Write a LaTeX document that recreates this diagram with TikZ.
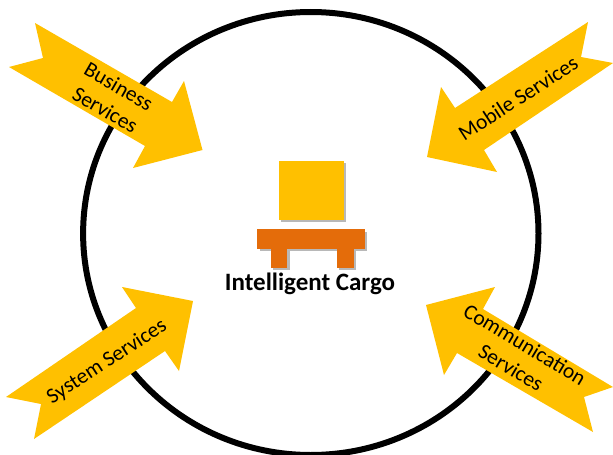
\documentclass[tikz,border=0pt]{standalone}
\usepackage{fontspec}
\setmainfont{Carlito}
\definecolor{amber}{RGB}{255,192,0}
\definecolor{orangeb}{RGB}{228,108,10}
\tikzset{
 px/.style={x=1pt,y=-1pt},
 bigarrow/.style={fill=amber,draw=none},
 shade1/.style={fill=black!28,draw=none},
 lbl/.style={font=\fontsize{21.5}{27}\selectfont,align=center,text=black,inner sep=0pt},
}
\begin{document}
\begin{tikzpicture}[px]
\useasboundingbox (0,0) rectangle (613,455);
\begin{scope}
\clip (0,0) rectangle (613,455);
\draw[line width=6pt,black] (310.8,233.5) ellipse [x radius=227.7, y radius=221.5];
\end{scope}
\fill[bigarrow] (35,23) -- (172,102) -- (184,81) -- (202.5,150) -- (133,168) -- (145,146) -- (9,67) -- (43,58) -- cycle;
\fill[bigarrow] (588,22) -- (581,57) -- (613,63) -- (484,150) -- (497,172) -- (427,157) -- (441,87) -- (455,108) -- cycle;
\fill[bigarrow] (122,287) -- (193,301) -- (179,371) -- (165,351) -- (34,439) -- (41,404) -- (6,397) -- (136,308) -- cycle;
\fill[bigarrow] (426,305) -- (495,287) -- (483,309) -- (613,387) -- (584,397) -- (593,432) -- (457,353) -- (444,375) -- cycle;
\node[lbl,rotate=-30] (bs) at (112,98) {Business\\Services};
\node[lbl,rotate=33] (ms) at (518,98) {Mobile Services};
\node[lbl,rotate=33] (ss) at (107,362) {System Services};
\node[lbl,rotate=-31] (cs) at (518,356) {Communication\\Services};
% cargo
\fill[shade1] (281,163) rectangle (346,222);
\node[fill=amber,minimum width=65.5pt,minimum height=59pt,inner sep=0pt,anchor=north west] (box) at (278.7,161) {};
\fill[shade1] (259.5,231.5) rectangle (367,250.5);
\fill[shade1] (273,250) rectangle (289.5,270);
\fill[shade1] (339,250) rectangle (355.5,270);
\fill[orangeb] (257.3,229.3) rectangle (365.3,248.7);
\fill[orangeb] (271,248) rectangle (287.3,268);
\fill[orangeb] (337,248) rectangle (353.7,268);
\node[font=\bfseries\fontsize{25}{27}\selectfont,inner sep=0pt] (ic) at (310,284) {Intelligent Cargo};
\end{tikzpicture}
\end{document}
